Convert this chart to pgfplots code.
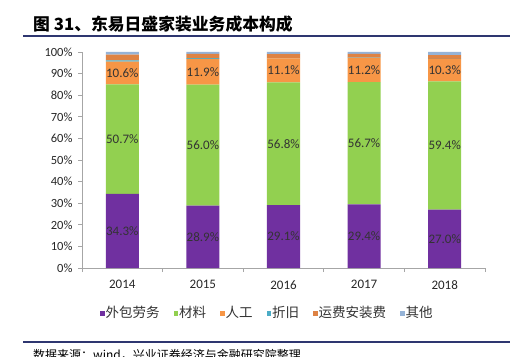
\documentclass[border=0pt]{standalone}
\usepackage{pgfplots}
\usepackage{pgfplotstable}
\pgfplotsset{compat=1.18}
\usepackage{fontspec}
\setmainfont{Carlito}
\newfontfamily\cjk{Noto Sans CJK SC}
\definecolor{cpurp}{HTML}{7030A0}
\definecolor{cgreen}{HTML}{92D050}
\definecolor{corange}{HTML}{F79646}
\definecolor{cteal}{HTML}{4BACC6}
\definecolor{cdkor}{HTML}{DE8344}
\definecolor{cblue}{HTML}{95B3D7}
\definecolor{cnavy}{HTML}{2E3670}
\definecolor{caxis}{HTML}{A6A6A6}
\pgfplotstableread{
x  out  mat  lab  dep  frt  oth
0  34.3 50.7 10.6 0.5  2.7  1.2
1  28.9 56.0 11.9 0.4  1.9  0.9
2  29.1 56.8 11.1 0.1  1.9  1.0
3  29.4 56.7 11.2 0.1  1.7  0.9
4  27.0 59.4 10.3 0.1  1.8  1.4
}\costdata
\begin{document}
\begin{tikzpicture}[x=1pt,y=1pt]
\path[use as bounding box] (0,0) rectangle (510,356);
\clip (0,0) rectangle (510,356);
% title
\node[anchor=base west, inner sep=0pt, font=\cjk\bfseries\fontsize{16.8}{18}\selectfont] at (33,325) {图 31、东易日盛家装业务成本构成};
\draw[cnavy, line width=1.6pt] (23,320) -- (510,320);
% footer
\draw[cnavy, line width=1.4pt] (23,14) -- (510,14);
\node[anchor=north west, inner sep=0pt, font=\cjk\fontsize{12}{14}\selectfont] at (33,7) {数据来源：wind，兴业证券经济与金融研究院整理};
\begin{axis}[
  at={(82pt,88pt)}, anchor=south west,
  scale only axis, width=403pt, height=216pt,
  ybar stacked, bar width=0.41,
  xmin=-0.5, xmax=4.5, ymin=0, ymax=100,
  axis x line*=bottom, axis y line*=left,
  axis line style={draw=caxis, line width=0.8pt},
  xtick={-0.5,0.5,1.5,2.5,3.5,4.5}, xticklabels={},
  extra x ticks={0,1,2,3,4},
  extra x tick labels={2014,2015,2016,2017,2018},
  extra x tick style={major tick length=0pt, xticklabel style={yshift=-9pt, font=\fontsize{13}{15}\selectfont}},
  ytick={0,10,...,100},
  yticklabel={\pgfmathprintnumber{\tick}\%},
  tick align=outside, major tick length=4pt,
  tick style={draw=caxis, line width=0.8pt},
  ticklabel style={font=\fontsize{12.5}{14}\selectfont, text=black!85},
  yticklabel style={xshift=-2pt},
  /pgf/number format/assume math mode=true,
  legend columns=6,
  legend style={at={(0.459,-0.208)}, anchor=center, draw=none, fill=none,
    font=\cjk\fontsize{13.5}{15}\selectfont, text=black!80, column sep=0pt,
    nodes={inner sep=1pt},
    /tikz/every even column/.append style={column sep=13pt}},
  legend image code/.code={\fill[#1,draw=none] (0pt,-3pt) rectangle (4.5pt,2pt);},
  legend cell align=left,
]
\addplot[fill=cpurp, draw=none,
  visualization depends on={rawy \as \ry},
  nodes near coords={\pgfmathprintnumber[fixed,fixed zerofill,precision=1]{\ry}\%},
  every node near coord/.append style={anchor=center, font=\fontsize{13}{15}\selectfont, text=black!80}]
  table[x=x,y=out]{\costdata};
\addlegendentry{外包劳务}
\addplot[fill=cgreen, draw=none,
  visualization depends on={rawy \as \ry},
  nodes near coords={\pgfmathprintnumber[fixed,fixed zerofill,precision=1]{\ry}\%},
  every node near coord/.append style={anchor=center, font=\fontsize{13}{15}\selectfont, text=black!80}]
  table[x=x,y=mat]{\costdata};
\addlegendentry{材料}
\addplot[fill=corange, draw=none,
  visualization depends on={rawy \as \ry},
  nodes near coords={\pgfmathprintnumber[fixed,fixed zerofill,precision=1]{\ry}\%},
  every node near coord/.append style={anchor=center, font=\fontsize{13}{15}\selectfont, text=black!80}]
  table[x=x,y=lab]{\costdata};
\addlegendentry{人工}
\addplot[fill=cteal, draw=none] table[x=x,y=dep]{\costdata};
\addlegendentry{折旧}
\addplot[fill=cdkor, draw=none] table[x=x,y=frt]{\costdata};
\addlegendentry{运费安装费}
\addplot[fill=cblue, draw=none] table[x=x,y=oth]{\costdata};
\addlegendentry{其他}
\end{axis}
\end{tikzpicture}
\end{document}
